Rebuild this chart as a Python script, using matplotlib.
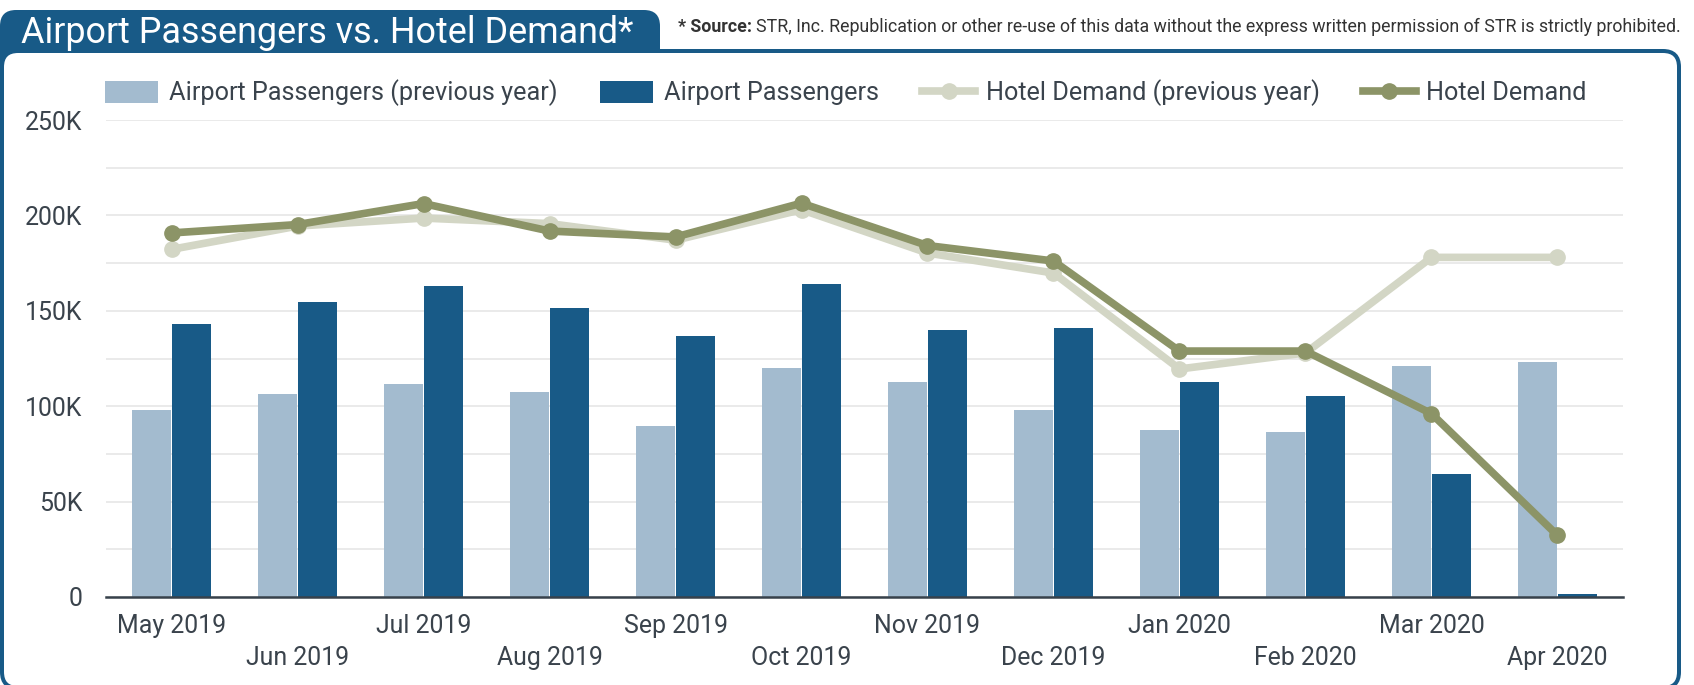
import numpy as np
import matplotlib
matplotlib.use('Agg')
import matplotlib.pyplot as plt
from matplotlib.patches import FancyBboxPatch, Patch
from matplotlib.lines import Line2D

plt.rcParams['font.family'] = ['Roboto', 'DejaVu Sans']

# data
months = ['May 2019', 'Jun 2019', 'Jul 2019', 'Aug 2019', 'Sep 2019', 'Oct 2019',
          'Nov 2019', 'Dec 2019', 'Jan 2020', 'Feb 2020', 'Mar 2020', 'Apr 2020']
airport_prev = [97900, 106200, 111500, 107300, 89500, 119900, 112500, 97900, 87400, 86300, 120900, 123000]
airport = [142900, 154500, 162800, 151300, 136600, 163900, 139800, 140800, 112500, 105200, 64300, 1800]
hotel_prev = [182200, 194400, 198600, 195700, 187000, 203000, 180300, 169800, 119500, 127900, 178000, 178000]
hotel = [190800, 195200, 206200, 191800, 188700, 206400, 184200, 176100, 128900, 128900, 96100, 32300]

# colours
BLUE = '#185a87'
LIGHT = '#a3bbcf'
OLIVE = '#8c9467'
OLIVE_LT = '#d3d6c5'
TXT = '#3a434c'

W, H = 1694, 685
fig = plt.figure(figsize=(W / 100, H / 100), dpi=100)

# background frame, in pixel units
bg = fig.add_axes([0, 0, 1, 1], zorder=0)
bg.set_xlim(0, W)
bg.set_ylim(H, 0)
bg.axis('off')
tab = FancyBboxPatch((0, 10), 660, 80, boxstyle='round,pad=0,rounding_size=16',
                     facecolor=BLUE, edgecolor='none')
bg.add_patch(tab)
panel = FancyBboxPatch((2, 51), 1677, 637, boxstyle='round,pad=0,rounding_size=16',
                       facecolor='white', edgecolor=BLUE, linewidth=4 * 0.72)
bg.add_patch(panel)
bg.text(21, 43, 'Airport Passengers vs. Hotel Demand*', color='white',
        fontsize=25.8, va='baseline', ha='left')
src_b = bg.text(678, 32, '* Source:', color='#333333', fontsize=12.8,
                fontweight='bold', va='baseline', ha='left')
bg.annotate('STR, Inc. Republication or other re-use of this data without the express '
            'written permission of STR is strictly prohibited.',
            xy=(1, 0), xycoords=src_b, xytext=(4, 0), textcoords='offset pixels',
            color='#333333', fontsize=12.8, va='bottom', ha='left')

# main chart
ax = fig.add_axes([106 / W, 1 - 597 / H, (1623 - 106) / W, (597 - 120) / H], zorder=2)
ax.set_facecolor('none')
x = np.arange(len(months))
bw = 0.31
ax.bar(x - bw / 2 - 0.004, airport_prev, bw, color=LIGHT, zorder=2)
ax.bar(x + bw / 2 + 0.004, airport, bw, color=BLUE, zorder=2)
ax.plot(x, hotel_prev, color=OLIVE_LT, lw=5.5, marker='o', ms=11, zorder=3)
ax.plot(x, hotel, color=OLIVE, lw=5.5, marker='o', ms=11, zorder=4)

ax.set_xlim(-0.52, 11.52)
ax.set_ylim(0, 250000)
ax.set_yticks(np.arange(0, 250001, 25000), minor=True)
ax.set_yticks(np.arange(0, 250001, 50000))
ax.set_yticklabels(['0', '50K', '100K', '150K', '200K', '250K'])
ax.grid(axis='y', which='both', color='#e8e8e8', lw=1.3, zorder=0)
ax.set_axisbelow(True)
for s in ['top', 'right', 'left']:
    ax.spines[s].set_visible(False)
ax.spines['bottom'].set_color('#37414b')
ax.spines['bottom'].set_linewidth(1.8)
ax.spines['bottom'].set_zorder(5)

ax.set_xticks(x[::2])
ax.set_xticklabels(months[::2])
ax.set_xticks(x[1::2], minor=True)
ax.set_xticklabels(months[1::2], minor=True)
ax.tick_params(axis='x', which='major', length=0, pad=12, labelsize=17.9, labelcolor=TXT)
ax.tick_params(axis='x', which='minor', length=0, pad=35, labelsize=17.9, labelcolor=TXT)
ax.tick_params(axis='y', which='both', length=0, pad=17, labelsize=17.9, labelcolor=TXT)

handles = [Patch(facecolor=LIGHT), Patch(facecolor=BLUE),
           Line2D([], [], color=OLIVE_LT, lw=5.5, marker='o', ms=11),
           Line2D([], [], color=OLIVE, lw=5.5, marker='o', ms=11)]
labels = ['Airport Passengers (previous year)', 'Airport Passengers',
          'Hotel Demand (previous year)', 'Hotel Demand']
leg = ax.legend(handles, labels, ncol=4, loc='center left',
                bbox_to_anchor=(105 / W, 1 - 93 / H), bbox_transform=fig.transFigure,
                frameon=False, fontsize=18.2, handlelength=2.1, handleheight=0.98,
                handletextpad=0.42, columnspacing=1.7, borderpad=0, borderaxespad=0)
for t in leg.get_texts():
    t.set_color(TXT)

fig.savefig('out.png', dpi=100)
